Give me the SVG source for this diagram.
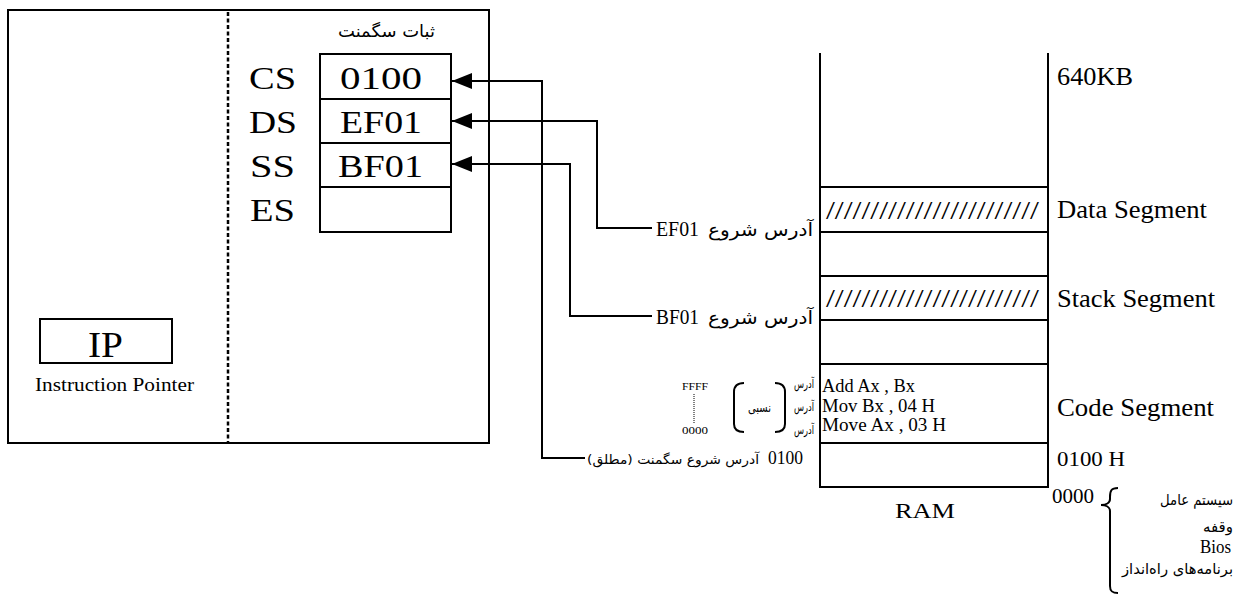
<svg xmlns="http://www.w3.org/2000/svg" width="1245" height="594" viewBox="0 0 1245 594">
<defs>
<marker id="arr" viewBox="0 0 20 16" refX="20" refY="8" markerWidth="20" markerHeight="16" markerUnits="userSpaceOnUse" orient="auto">
<path d="M0,0 L20,8 L0,16 z" fill="#000"/>
</marker>
<style>
.ln{fill:none;stroke:#000;stroke-width:2}
.lat{font-family:"Liberation Serif","Times New Roman",serif;fill:#000}
.ar{font-family:"DejaVu Sans","Noto Sans",sans-serif;fill:#000}
.reg{font-size:32px}
.seg{font-size:25px}
</style>
</defs>
<rect width="1245" height="594" fill="#fff"/>

<g id="cpu">
<rect class="ln" x="8" y="10" width="481" height="433"/>
<line x1="228" y1="12" x2="228" y2="443" stroke="#000" stroke-width="2.5" stroke-dasharray="4 2.5"/>
</g>

<g id="segment-registers">
<text class="ar" x="435" y="37" font-size="17" text-anchor="end" textLength="97" lengthAdjust="spacingAndGlyphs">ثبات سگمنت</text>
<rect class="ln" x="320" y="54" width="131" height="178"/>
<line class="ln" x1="320" y1="99" x2="451" y2="99"/>
<line class="ln" x1="320" y1="143" x2="451" y2="143"/>
<line class="ln" x1="320" y1="187" x2="451" y2="187"/>
<text class="lat reg" x="249" y="89" textLength="47" lengthAdjust="spacingAndGlyphs">CS</text>
<text class="lat reg" x="249" y="133" textLength="48" lengthAdjust="spacingAndGlyphs">DS</text>
<text class="lat reg" x="250" y="177" textLength="45" lengthAdjust="spacingAndGlyphs">SS</text>
<text class="lat reg" x="250" y="221" textLength="45" lengthAdjust="spacingAndGlyphs">ES</text>
<text class="lat reg" x="340" y="89" textLength="82" lengthAdjust="spacingAndGlyphs">0100</text>
<text class="lat reg" x="340" y="133" textLength="82" lengthAdjust="spacingAndGlyphs">EF01</text>
<text class="lat reg" x="338" y="177" textLength="85" lengthAdjust="spacingAndGlyphs">BF01</text>
</g>

<g id="ip">
<rect class="ln" x="40" y="319" width="132" height="44"/>
<text class="lat" x="88" y="357" font-size="36" textLength="35" lengthAdjust="spacingAndGlyphs">IP</text>
<text class="lat" x="35" y="391" font-size="19" textLength="159" lengthAdjust="spacingAndGlyphs">Instruction Pointer</text>
</g>

<g id="ram">
<path class="ln" d="M820,53 V487 H1048 V53"/>
<line class="ln" x1="820" y1="187" x2="1048" y2="187"/>
<line class="ln" x1="820" y1="232" x2="1048" y2="232"/>
<line class="ln" x1="820" y1="276" x2="1048" y2="276"/>
<line class="ln" x1="820" y1="320" x2="1048" y2="320"/>
<line class="ln" x1="820" y1="364" x2="1048" y2="364"/>
<line class="ln" x1="820" y1="443" x2="1048" y2="443"/>
<text class="lat" x="826" y="219" font-size="25" textLength="213" lengthAdjust="spacingAndGlyphs">////////////////////////</text>
<text class="lat" x="826" y="307" font-size="25" textLength="213" lengthAdjust="spacingAndGlyphs">////////////////////////</text>
<text class="lat" x="822" y="392" font-size="18" textLength="93" lengthAdjust="spacingAndGlyphs">Add Ax , Bx</text>
<text class="lat" x="822" y="412" font-size="18" textLength="113" lengthAdjust="spacingAndGlyphs">Mov Bx , 04 H</text>
<text class="lat" x="822" y="431" font-size="18" textLength="124" lengthAdjust="spacingAndGlyphs">Move Ax , 03 H</text>
<text class="lat" x="925" y="518" font-size="22" text-anchor="middle" textLength="60" lengthAdjust="spacingAndGlyphs">RAM</text>
</g>

<g id="ram-labels">
<text class="lat seg" x="1057" y="85" textLength="76" lengthAdjust="spacingAndGlyphs">640KB</text>
<text class="lat seg" x="1057" y="218" textLength="150" lengthAdjust="spacingAndGlyphs">Data Segment</text>
<text class="lat seg" x="1057" y="307" textLength="158" lengthAdjust="spacingAndGlyphs">Stack Segment</text>
<text class="lat seg" x="1057" y="416" textLength="157" lengthAdjust="spacingAndGlyphs">Code Segment</text>
<text class="lat" x="1057" y="466" font-size="20" textLength="68" lengthAdjust="spacingAndGlyphs">0100 H</text>
<text class="lat" x="1052" y="503" font-size="21" textLength="42" lengthAdjust="spacingAndGlyphs">0000</text>
</g>

<g id="relative-address">
<text class="lat" x="682" y="390" font-size="10" textLength="26" lengthAdjust="spacingAndGlyphs">FFFF</text>
<line x1="694" y1="394" x2="694" y2="423" stroke="#000" stroke-width="1" stroke-dasharray="1 1"/>
<text class="lat" x="682" y="434" font-size="10" textLength="26" lengthAdjust="spacingAndGlyphs">0000</text>
<path class="ln" d="M744,383 Q734,383 734,392 L734,424 Q734,432 744,432"/>
<path class="ln" d="M775,383 Q785,383 785,392 L785,424 Q785,432 775,432"/>
<text class="ar" x="771" y="412" font-size="13" text-anchor="end" textLength="23" lengthAdjust="spacingAndGlyphs">نسبی</text>
<text class="ar" x="814" y="388" font-size="12" text-anchor="end" textLength="20" lengthAdjust="spacingAndGlyphs">آدرس</text>
<text class="ar" x="814" y="411" font-size="12" text-anchor="end" textLength="20" lengthAdjust="spacingAndGlyphs">آدرس</text>
<text class="ar" x="814" y="434" font-size="12" text-anchor="end" textLength="20" lengthAdjust="spacingAndGlyphs">آدرس</text>
</g>

<g id="lower-memory">
<path class="ln" d="M1118,488 C1111,488 1110,491 1110,497 L1110,499 C1110,503 1106,505 1101,505 C1106,505 1110,507 1110,511 L1110,586 C1110,591 1112,593 1118,593"/>
<text class="ar" x="1233" y="505" font-size="15" text-anchor="end" textLength="73" lengthAdjust="spacingAndGlyphs">سیستم عامل</text>
<text class="ar" x="1233" y="532" font-size="15" text-anchor="end" textLength="30" lengthAdjust="spacingAndGlyphs">وقفه</text>
<text class="lat" x="1231" y="553" font-size="18" text-anchor="end" textLength="31" lengthAdjust="spacingAndGlyphs">Bios</text>
<text class="ar" x="1233" y="574" font-size="15" text-anchor="end" textLength="111" lengthAdjust="spacingAndGlyphs">برنامه‌های راه‌انداز</text>
</g>

<g id="labels">
<text class="lat" x="656" y="236" font-size="20" textLength="43" lengthAdjust="spacingAndGlyphs">EF01</text>
<text class="ar" x="813" y="236" font-size="18" text-anchor="end" textLength="105" lengthAdjust="spacingAndGlyphs">آدرس شروع</text>
<text class="lat" x="656" y="324" font-size="20" textLength="43" lengthAdjust="spacingAndGlyphs">BF01</text>
<text class="ar" x="813" y="324" font-size="18" text-anchor="end" textLength="105" lengthAdjust="spacingAndGlyphs">آدرس شروع</text>
<text class="lat" x="768" y="464" font-size="18" textLength="35" lengthAdjust="spacingAndGlyphs">0100</text>
<text class="ar" x="673" y="464" font-size="13" direction="rtl" unicode-bidi="embed" text-anchor="middle" textLength="172" lengthAdjust="spacingAndGlyphs">آدرس شروع سگمنت (مطلق)</text>
</g>

<g id="connectors">
<path class="ln" d="M585,458 H542 V81 H452" marker-end="url(#arr)"/>
<path class="ln" d="M652,228 H597 V121 H452" marker-end="url(#arr)"/>
<path class="ln" d="M652,316 H570 V164 H452" marker-end="url(#arr)"/>
</g>
</svg>
